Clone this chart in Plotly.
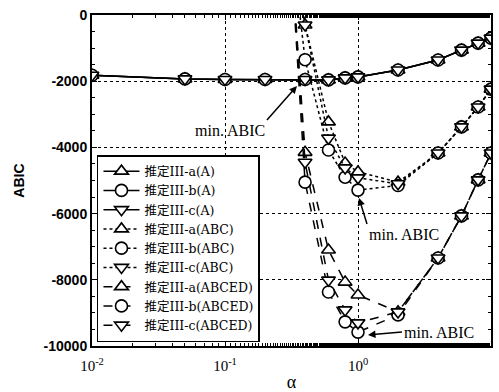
import plotly.graph_objects as go

# ---- data ----
alpha_A = [0.01, 0.05, 0.1, 0.2, 0.4, 0.6, 0.8, 1, 2, 4, 6, 8, 10]
abic_A_a = [-1820, -1930, -1950, -1950, -1950, -1960, -1900, -1870, -1660, -1360, -1060, -850, -700]
abic_A_b = [-1820, -1930, -1950, -1950, -1950, -1960, -1900, -1870, -1660, -1360, -1060, -850, -700]
abic_A_c = [-1820, -1930, -1950, -1950, -1950, -1960, -1900, -1870, -1660, -1360, -1060, -850, -700]

alpha_B = [0.3, 0.4, 0.6, 0.8, 1, 2, 4, 6, 8, 10]
abic_ABC_a = [3000, -300, -3230, -4470, -4740, -5050, -4170, -3380, -2780, -2240]
abic_ABC_b = [3000, -1350, -4080, -4900, -5290, -5150, -4170, -3380, -2780, -2240]
abic_ABC_c = [3000, -300, -3720, -4620, -4920, -5100, -4170, -3380, -2780, -2240]

abic_ABCED_a = [3000, -4150, -7100, -8070, -8460, -8970, -7340, -6070, -4980, -4170]
abic_ABCED_b = [3000, -5050, -8370, -9270, -9580, -9060, -7340, -6070, -4980, -4170]
abic_ABCED_c = [3000, -4450, -8010, -8910, -9300, -8970, -7340, -6070, -4980, -4170]

names = ["推定III-a(A)", "推定III-b(A)", "推定III-c(A)",
         "推定III-a(ABC)", "推定III-b(ABC)", "推定III-c(ABC)",
         "推定III-a(ABCED)", "推定III-b(ABCED)", "推定III-c(ABCED)"]

y_tickvals = [0, -2000, -4000, -6000, -8000, -10000]
y_ticktext = ["0", "-2000", "-4000", "-6000", "-8000", "-10000"]
x_tickvals = [0.01, 0.1, 1, 10]
x_ticktext = ["10<sup>-2</sup>", "10<sup>-1</sup>", "10<sup>0</sup>", "10<sup>1</sup>"]

series = [
    (alpha_A, abic_A_a, "triangle-up", "solid"),
    (alpha_A, abic_A_b, "circle", "solid"),
    (alpha_A, abic_A_c, "triangle-down", "solid"),
    (alpha_B, abic_ABC_a, "triangle-up", "dot"),
    (alpha_B, abic_ABC_b, "circle", "dot"),
    (alpha_B, abic_ABC_c, "triangle-down", "dot"),
    (alpha_B, abic_ABCED_a, "triangle-up", "dash"),
    (alpha_B, abic_ABCED_b, "circle", "dash"),
    (alpha_B, abic_ABCED_c, "triangle-down", "dash"),
]

SERIF = "Liberation Serif, Times New Roman, Noto Sans CJK JP, serif"
LEGSERIF = "DejaVu Serif, Noto Sans CJK JP, serif"
SANS = "Liberation Sans, Arial, sans-serif"

fig = go.Figure()
for (xs, ys, sym, dash), nm in zip(series, names):
    fig.add_trace(go.Scatter(
        x=xs, y=ys, name=nm, mode="lines+markers",
        line=dict(color="black", width=1.5, dash=dash),
        marker=dict(symbol=sym, size=12, color="white",
                    line=dict(color="black", width=1.6)),
    ))

ann_font = dict(family=SERIF, size=16, color="black")
annotations = [
    dict(x=-0.459, y=-2145, xref="x", yref="y", text="min. ABIC",
         showarrow=True, ax=-30, ay=34, xanchor="right", yanchor="top",
         arrowhead=2, arrowsize=1, arrowwidth=1.5, arrowcolor="black", font=ann_font),
    dict(x=0.0075, y=-5529, xref="x", yref="y", text="min. ABIC",
         showarrow=True, ax=8, ay=26, xanchor="left", yanchor="top",
         arrowhead=2, arrowsize=1, arrowwidth=1.5, arrowcolor="black", font=ann_font),
    dict(x=0.075, y=-9668, xref="x", yref="y", text="min. ABIC",
         showarrow=True, ax=34, ay=-3, xanchor="left", yanchor="middle",
         arrowhead=2, arrowsize=1, arrowwidth=1.5, arrowcolor="black", font=ann_font),
]

fig.update_layout(
    width=499, height=392,
    margin=dict(l=92, r=8, t=15, b=46),
    paper_bgcolor="white", plot_bgcolor="white",
    showlegend=True,
    legend=dict(x=0.0125, y=0.012, xanchor="left", yanchor="bottom",
                bgcolor="white", bordercolor="black", borderwidth=1.5,
                font=dict(family=LEGSERIF, size=12.5, color="black"),
                itemwidth=36, tracegroupgap=0),
    annotations=annotations,
)

fig.update_xaxes(
    type="log", range=[-2, 1], automargin=False,
    tickvals=x_tickvals, ticktext=x_ticktext,
    tickfont=dict(family=SERIF, size=15, color="black"),
    ticks="inside", ticklen=5, tickcolor="black", tickwidth=1,
    ticklabelstandoff=5,
    minor=dict(ticks="inside", ticklen=3, tickcolor="black", showgrid=False),
    showline=True, linecolor="black", linewidth=2, mirror="allticks",
    showgrid=True, gridcolor="black", griddash="dot", gridwidth=1,
    zeroline=False,
    title=dict(text="α", font=dict(family=SERIF, size=18, color="black"), standoff=5),
)
fig.update_yaxes(
    range=[-10000, 0], automargin=False,
    tickvals=y_tickvals, ticktext=y_ticktext,
    tickfont=dict(family=SANS, size=14, color="black", weight="bold"),
    ticks="inside", ticklen=5, tickcolor="black", tickwidth=1,
    minor=dict(ticks="inside", ticklen=3, tickcolor="black", dtick=500, showgrid=False),
    showline=True, linecolor="black", linewidth=2, mirror="allticks",
    showgrid=True, gridcolor="black", griddash="dot", gridwidth=1,
    zeroline=False,
    title=dict(text="ABIC", font=dict(family=SANS, size=14, color="black", weight="bold"), standoff=16),
)

fig.write_html("out.html")
